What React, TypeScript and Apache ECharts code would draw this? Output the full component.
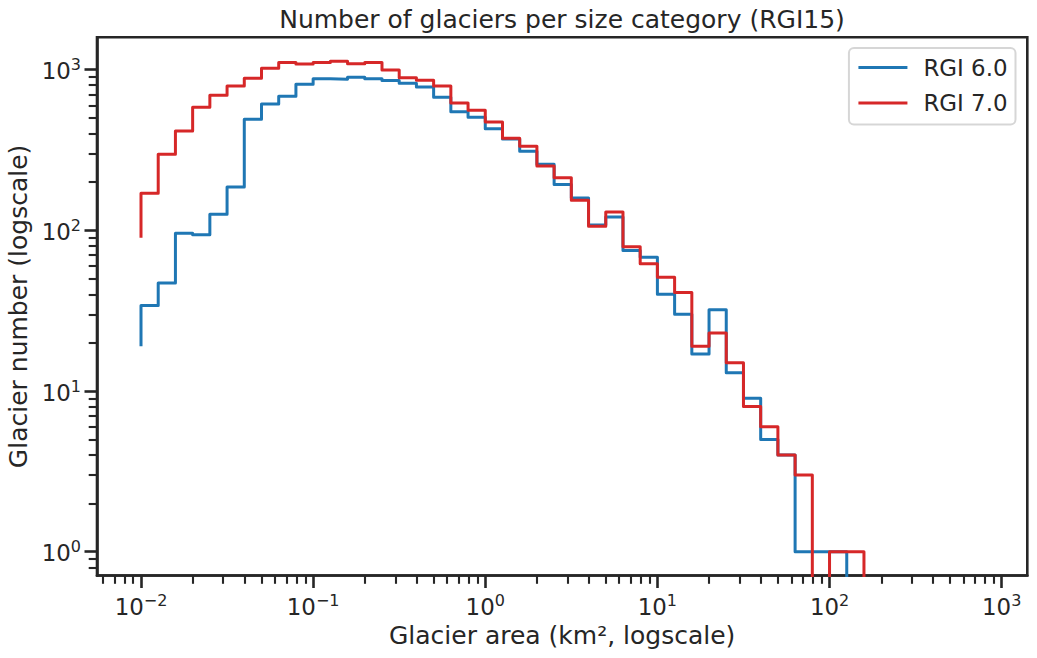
import React, { useEffect, useRef } from "react";
import * as echarts from "echarts";

// Bin edges (km², 10 bins per decade)
const binEdges = [
  0.01, 0.012589, 0.015849, 0.019953, 0.025119, 0.031623, 0.039811, 0.050119, 0.063096, 0.079433,
  0.1, 0.12589, 0.15849, 0.19953, 0.25119, 0.31623, 0.39811, 0.50119, 0.63096, 0.79433,
  1, 1.2589, 1.5849, 1.9953, 2.5119, 3.1623, 3.9811, 5.0119, 6.3096, 7.9433,
  10, 12.589, 15.849, 19.953, 25.119, 31.623, 39.811, 50.119, 63.096, 79.433,
  100, 125.89, 158.49, 199.53,
];

// Glacier counts (step "pre": value i holds over [edge i-1, edge i])
const rgi6Counts = [
  19, 34, 47, 96, 94, 126, 186, 491, 611, 683,
  811, 877, 871, 895, 877, 855, 822, 780, 672, 547,
  505, 429, 370, 311, 258, 193, 159, 108, 121, 75,
  68, 40, 30, 17, 32, 13, 9, 5, 4, 1,
  1, 1, 0, 0,
];
const rgi7Counts = [
  90, 170, 297, 415, 583, 692, 791, 883, 1019, 1109,
  1083, 1109, 1127, 1089, 1109, 994, 891, 858, 791, 620,
  558, 472, 374, 333, 251, 212, 154, 106, 130, 79,
  62, 51, 41, 19, 23, 15, 8, 6, 4, 3,
  0, 1, 1, 0,
];

const seriesNames = ["RGI 6.0", "RGI 7.0"];
const seriesColors = ["#1f77b4", "#d62728"];

const xMajorTicks = [0.01, 0.1, 1, 10, 100, 1000];
const xMinorTicks = [
  0.006, 0.007, 0.008, 0.009,
  0.02, 0.03, 0.04, 0.05, 0.06, 0.07, 0.08, 0.09,
  0.2, 0.3, 0.4, 0.5, 0.6, 0.7, 0.8, 0.9,
  2, 3, 4, 5, 6, 7, 8, 9,
  20, 30, 40, 50, 60, 70, 80, 90,
  200, 300, 400, 500, 600, 700, 800, 900,
];
const yMajorTicks = [1, 10, 100, 1000];
const yMinorTicks = [
  0.8, 0.9,
  2, 3, 4, 5, 6, 7, 8, 9,
  20, 30, 40, 50, 60, 70, 80, 90,
  200, 300, 400, 500, 600, 700, 800, 900,
];

const X_MIN = 0.005551;
const X_MAX = 1409;
const Y_MIN = 0.711;
const Y_MAX = 1589;

const INK = "#262626";
const FONT = "DejaVu Sans";

// matplotlib draws zero counts on a log axis as clipped below the axis
const clipZero = (v: number) => (v > 0 ? v : 1e-3);

function stepPoints(edges: number[], counts: number[]) {
  const pts: [number, number][] = [[edges[0], clipZero(counts[0])]];
  for (let i = 1; i < counts.length; i++) {
    pts.push([edges[i - 1], clipZero(counts[i])]);
    pts.push([edges[i], clipZero(counts[i])]);
  }
  return pts;
}

const powLabel = (v: number) => {
  const e = Math.round(Math.log10(v));
  return `{b|10}{s|${e < 0 ? "\u2212" + -e : e}}`;
};

const labelRich = {
  b: { fontSize: 22.9, lineHeight: 26, verticalAlign: "bottom", color: INK, fontFamily: FONT },
  s: { fontSize: 16, lineHeight: 16, verticalAlign: "top", color: INK, fontFamily: FONT },
};

export default function App() {
  const ref = useRef<HTMLDivElement>(null);
  useEffect(() => {
    if (!ref.current) return;
    const chart = echarts.init(ref.current, null, { renderer: "svg" });
    const gridH = 658 - 37.3 - 82.5;
    const gridW = 1037 - 97 - 9.7;
    const option: any = {
      animation: false,
      textStyle: { fontFamily: FONT, color: INK },
      title: {
        text: "Number of glaciers per size category (RGI15)",
        left: 562,
        textAlign: "center",
        top: 7,
        padding: 0,
        textStyle: { fontSize: 25, fontWeight: "normal", color: INK, fontFamily: FONT },
      },
      grid: {
        left: 97,
        right: 9.7,
        top: 37.3,
        bottom: 82.5,
        show: true,
        borderColor: INK,
        borderWidth: 2.6,
        backgroundColor: "transparent",
        outerBoundsMode: "none",
      },
      legend: {
        data: seriesNames,
        orient: "vertical",
        right: 21.5,
        top: 48,
        padding: [8, 8, 10, 8],
        itemGap: 12.4,
        itemWidth: 49,
        itemHeight: 23,
        backgroundColor: "rgba(255,255,255,0.8)",
        borderColor: "rgba(204,204,204,0.8)",
        borderWidth: 2,
        borderRadius: 5,
        itemStyle: { opacity: 0, borderWidth: 0 },
        lineStyle: { width: 3, opacity: 1 },
        textStyle: { fontSize: 22.9, color: INK, lineHeight: 23, padding: [0, 0, 0, 11], fontFamily: FONT },
        selectedMode: false,
      },
      xAxis: [
        {
          type: "log",
          logBase: 10,
          min: X_MIN,
          max: X_MAX,
          position: "bottom",
          axisLine: { show: true, lineStyle: { color: INK, width: 2.6 } },
          axisTick: { show: true, length: 12.5, lineStyle: { color: INK, width: 2.6 }, customValues: xMajorTicks },
          axisLabel: { show: true, margin: 17, customValues: xMajorTicks, formatter: powLabel, rich: labelRich },
          splitLine: { show: false },
          name: "Glacier area (km², logscale)",
          nameLocation: "middle",
          nameGap: 45,
          nameTextStyle: { fontSize: 25, color: INK, fontFamily: FONT },
        },
        {
          type: "log",
          logBase: 10,
          min: X_MIN,
          max: X_MAX,
          position: "top",
          offset: -gridH,
          axisLine: { show: false },
          axisTick: { show: true, inside: true, length: 8.3, lineStyle: { color: INK, width: 2.1 }, customValues: xMinorTicks },
          axisLabel: { show: false },
          splitLine: { show: false },
        },
      ],
      yAxis: [
        {
          type: "log",
          logBase: 10,
          min: Y_MIN,
          max: Y_MAX,
          position: "left",
          axisLine: { show: true, lineStyle: { color: INK, width: 2.6 } },
          axisTick: { show: true, length: 12.5, lineStyle: { color: INK, width: 2.6 }, customValues: yMajorTicks },
          axisLabel: { show: true, margin: 16, customValues: yMajorTicks, formatter: powLabel, rich: labelRich },
          splitLine: { show: false },
          name: "Glacier number (logscale)",
          nameLocation: "middle",
          nameGap: 60,
          nameTextStyle: { fontSize: 25, color: INK, fontFamily: FONT },
        },
        {
          type: "log",
          logBase: 10,
          min: Y_MIN,
          max: Y_MAX,
          position: "right",
          offset: -gridW,
          axisLine: { show: false },
          axisTick: { show: true, inside: true, length: 8.3, lineStyle: { color: INK, width: 2.1 }, customValues: yMinorTicks },
          axisLabel: { show: false },
          splitLine: { show: false },
        },
      ],
      series: [rgi6Counts, rgi7Counts].map((counts, i) => ({
        name: seriesNames[i],
        type: "line",
        xAxisIndex: 0,
        yAxisIndex: 0,
        data: stepPoints(binEdges, counts),
        symbol: "none",
        showSymbol: false,
        clip: true,
        silent: true,
        color: seriesColors[i],
        itemStyle: { color: seriesColors[i] },
        lineStyle: { color: seriesColors[i], width: 3, join: "round", cap: "butt" },
        emphasis: { disabled: true },
        z: 2 + i,
      })),
    };
    chart.setOption(option);
    return () => chart.dispose();
  }, []);
  return (
    <div
      ref={ref}
      style={{ position: "absolute", left: 0, top: 0, width: 1037, height: 658, background: "#fff" }}
    />
  );
}
